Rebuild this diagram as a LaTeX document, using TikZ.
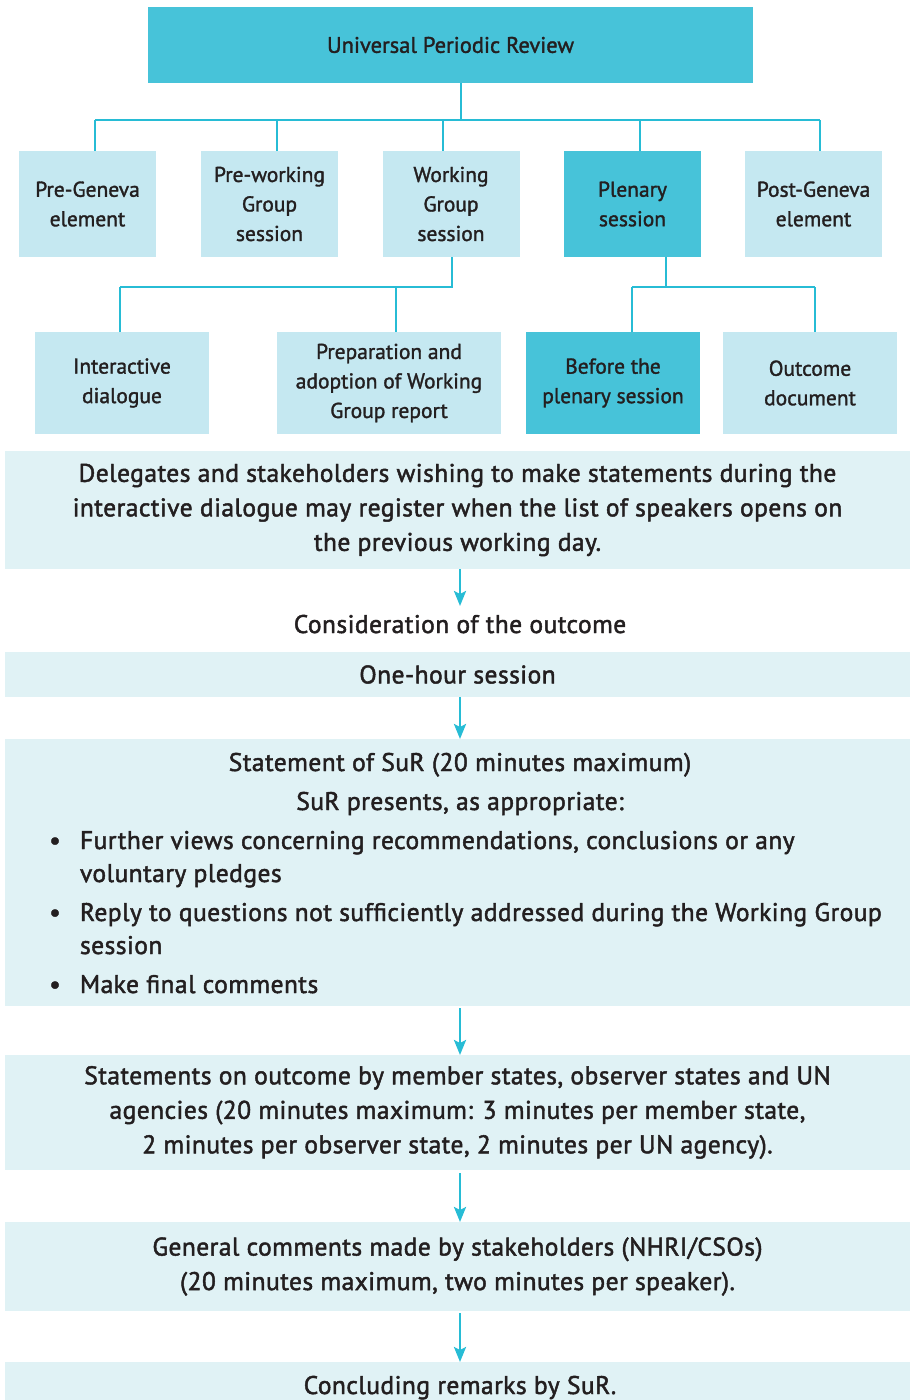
\documentclass[tikz,border=0pt]{standalone}
\usepackage{fontspec}
\setmainfont[FakeBold=1.8, LetterSpace=1.8]{PT Sans}
\newfontfamily\boxfont[FakeBold=1.5]{PT Sans}
\usetikzlibrary{arrows.meta}
\definecolor{dk}{HTML}{47C3D9}
\definecolor{lt}{HTML}{C5E8F1}
\definecolor{pale}{HTML}{E0F2F5}
\definecolor{ln}{HTML}{27BCD5}
\definecolor{txt}{HTML}{231F20}
\tikzset{
  box/.style={inner sep=0pt, outer sep=0pt, align=center, text=txt},
  topbox/.style={box, fill=dk, font=\boxfont\fontsize{22.5}{29.5}\selectfont},
  litebox/.style={box, fill=lt, font=\boxfont\fontsize{21.5}{29.5}\selectfont},
  darkbox/.style={box, fill=dk, font=\boxfont\fontsize{21.5}{29.5}\selectfont},
  wide/.style={box, fill=pale, minimum width=905pt, font=\fontsize{25.5}{34.5}\selectfont},
  plain/.style={inner sep=0pt, outer sep=0pt, text=txt, font=\fontsize{25.5}{33}\selectfont},
  conn/.style={draw=ln, line width=2.8pt},
  flow/.style={draw=ln, line width=2.6pt, -{Stealth[length=15pt,width=12pt,inset=3pt]}},
}
\begin{document}
\begin{tikzpicture}[x=1pt,y=-1pt]
\useasboundingbox (0,0) rectangle (910,1400);
% top
\node[topbox, minimum width=605pt, minimum height=76pt] (upr) at (450.5,45) {Universal Periodic Review};
% row 1
\foreach \n/\cx/\st/\t in {b1/87.5/litebox/{Pre-Geneva\\element}, b2/269.5/litebox/{Pre-working\\Group\\session}, b3/451/litebox/{Working\\Group\\session}, b4/632.5/darkbox/{Plenary\\session}, b5/813.5/litebox/{Post-Geneva\\element}}
  \node[\st, minimum width=137pt, minimum height=106pt] (\n) at (\cx,204) {\t};
% row 2
\node[litebox, minimum width=174pt, minimum height=102pt] (c1) at (122,383) {Interactive\\dialogue};
\node[litebox, minimum width=224pt, minimum height=102pt] (c2) at (389,383) {Preparation and\\adoption of Working\\Group report};
\node[darkbox, minimum width=174pt, minimum height=102pt] (c3) at (613,383) {Before the\\plenary session};
\node[litebox, minimum width=174pt, minimum height=102pt] (c4) at (810,383) {Outcome\\document};
% connectors row 1
\coordinate (t0) at (461,83);
\coordinate (j0) at (461,120);
\coordinate (j1) at (95,120);
\coordinate (j2) at (277,120);
\coordinate (j3) at (443,120);
\coordinate (j4) at (640,120);
\coordinate (j5) at (820,120);
\draw[conn] (t0) -- (j0);
\draw[conn] (j1) -- (j5);
\foreach \j/\b in {j1/b1,j2/b2,j3/b3,j4/b4,j5/b5}
  \draw[conn] (\j) -- (\j |- \b.north);
% connectors row 2
\coordinate (w0) at (452,257);
\coordinate (w1) at (452,287);
\coordinate (k1) at (120,287);
\coordinate (k2) at (396,287);
\draw[conn] (w0) -- (w1) -- (k1);
\draw[conn] (k1) -- (k1 |- c1.north);
\draw[conn] (k2) -- (k2 |- c2.north);
\coordinate (p0) at (666,257);
\coordinate (p1) at (666,287);
\coordinate (k3) at (632,287);
\coordinate (k4) at (815,287);
\draw[conn] (p0) -- (p1);
\draw[conn] (k3) -- (k4);
\draw[conn] (k3) -- (k3 |- c3.north);
\draw[conn] (k4) -- (k4 |- c4.north);
% flow
\node[wide, minimum height=118pt] (d1) at (457.5,510) {Delegates and stakeholders wishing to make statements during the\\interactive dialogue may register when the list of speakers opens on\\the previous working day.};
\node[plain, anchor=base] (d2) at (460,633) {Consideration of the outcome};
\node[wide, minimum height=45pt] (d3) at (457.5,674.5) {One-hour session};
\node[wide, minimum height=267pt] (d4) at (457.5,872.5) {};
\node[plain, anchor=base] (s1) at (460,771) {Statement of SuR (20 minutes maximum)};
\node[plain, anchor=base] (s2) at (460,810) {SuR presents, as appropriate:};
\node[plain, anchor=base west, align=left] (s3) at (80,882) {Further views concerning recommendations, conclusions or any\\voluntary pledges};
\node[plain, anchor=base west, align=left] (s4) at (80,954) {Reply to questions not sufficiently addressed during the Working Group\\session};
\node[plain, anchor=base west, align=left] (s5) at (80,993) {Make final comments};
\node[plain, anchor=base] (u3) at (55,849) {\textbullet};
\node[plain, anchor=base] (u4) at (55,921) {\textbullet};
\node[plain, anchor=base] (u5) at (55,993) {\textbullet};
\node[wide, minimum height=115pt] (d5) at (457.5,1112.5) {Statements on outcome by member states, observer states and UN\\agencies (20 minutes maximum: 3 minutes per member state,\\2 minutes per observer state, 2 minutes per UN agency).};
\node[wide, minimum height=89pt] (d6) at (457.5,1266.5) {General comments made by stakeholders (NHRI/CSOs)\\(20 minutes maximum, two minutes per speaker).};
\node[box, fill=pale, minimum width=905pt, minimum height=40pt, anchor=north] (d7) at (457.5,1362) {};
\node[plain, anchor=base] (d7t) at (460,1394) {Concluding remarks by SuR.};
\coordinate (a1) at (460,569);
\coordinate (a2) at (460,697);
\coordinate (a3) at (460,1008);
\coordinate (a4) at (460,1173);
\coordinate (a5) at (460,1313);
\coordinate (e1) at (460,606);
\draw[flow] (a1) -- (e1);
\draw[flow] (a2) -- (a2 |- d4.north);
\draw[flow] (a3) -- (a3 |- d5.north);
\draw[flow] (a4) -- (a4 |- d6.north);
\draw[flow] (a5) -- (a5 |- d7.north);
\end{tikzpicture}
\end{document}
